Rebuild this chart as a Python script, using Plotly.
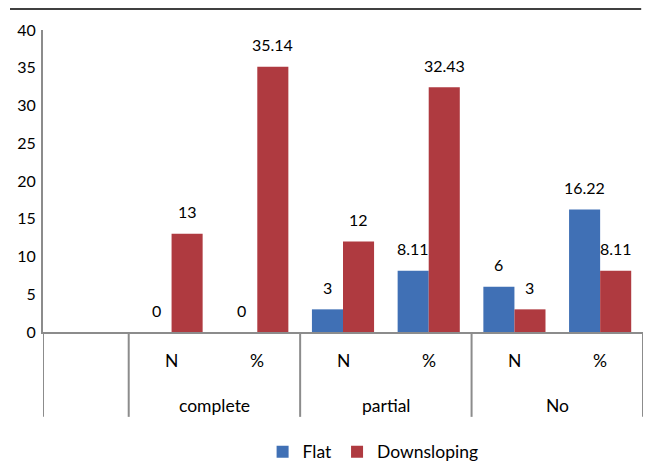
import plotly.graph_objects as go

# Chart data
groups = [" ", "complete", "complete", "partial", "partial", "No", "No"]
measures = [" ", "N", "%", "N", "%", "N", "%"]
flat = [None, 0, 0, 3, 8.11, 6, 16.22]
downsloping = [None, 13, 35.14, 12, 32.43, 3, 8.11]
y_ticks = [0, 5, 10, 15, 20, 25, 30, 35, 40]

FONT = "Lato"
NUM_SIZE = 16
TEXT_SIZE = 17.5
BLUE = "#4070B5"
RED = "#AF3A40"
AXIS_GRAY = "#8C8C8C"
BARGAP = 0.275

fig = go.Figure()
fig.add_trace(go.Bar(x=[groups, measures], y=flat, name="Flat",
                     marker=dict(color=BLUE, line=dict(width=0))))
fig.add_trace(go.Bar(x=[groups, measures], y=downsloping, name="Downsloping",
                     marker=dict(color=RED, line=dict(width=0))))

annotations = []
shapes = []

# value labels centred above each bar
half = (1 - BARGAP) / 4
for series, shift in ((flat, -half), (downsloping, half)):
    for i, v in enumerate(series):
        if v is None:
            continue
        annotations.append(dict(
            x=i + shift, y=v, xref="x", yref="y", text=f"{v:g}",
            showarrow=False, yanchor="middle", yshift=22,
            font=dict(family=FONT, size=NUM_SIZE, color="#000000")))

# two-level category labels under the axis
for i, m in enumerate(measures):
    if m.strip():
        annotations.append(dict(x=i, y=-0.096, xref="x", yref="paper",
                                text=m, showarrow=False, yanchor="middle",
                                font=dict(family=FONT, size=TEXT_SIZE)))

group_names = []
for g in groups:
    if not group_names or group_names[-1][0] != g:
        group_names.append([g, 0])
    group_names[-1][1] += 1

start = 0
bounds = [-0.5]
for name, count in group_names:
    centre = start + (count - 1) / 2
    if name.strip():
        annotations.append(dict(x=centre, y=-0.245, xref="x", yref="paper",
                                text=name, showarrow=False, yanchor="middle",
                                font=dict(family=FONT, size=TEXT_SIZE)))
    start += count
    bounds.append(start - 0.5)

# group dividers
for b in bounds:
    shapes.append(dict(type="line", xref="x", yref="paper", x0=b, x1=b,
                       y0=0, y1=-0.281, line=dict(color=AXIS_GRAY, width=2)))

# rule across the top of the chart
shapes.append(dict(type="line", xref="paper", yref="paper",
                   x0=-0.055, x1=0.997, y0=1.0695, y1=1.0695,
                   line=dict(color="#000000", width=1.5)))

fig.update_layout(
    width=646, height=461,
    margin=dict(l=43, r=3, t=30, b=129, autoexpand=False),
    paper_bgcolor="white", plot_bgcolor="white",
    barmode="group", bargap=BARGAP, bargroupgap=0,
    font=dict(family=FONT, size=NUM_SIZE, color="#000000"),
    annotations=annotations,
    shapes=shapes,
    showlegend=True,
    legend=dict(orientation="h", x=0.366, xanchor="left",
                yref="container", y=0.02, yanchor="middle",
                font=dict(family=FONT, size=TEXT_SIZE),
                itemwidth=30, bgcolor="rgba(0,0,0,0)"),
)
fig.update_yaxes(range=[0, 40], tickvals=y_ticks, showgrid=False,
                 zeroline=False, showline=True, linecolor=AXIS_GRAY,
                 linewidth=2, ticks="", tickfont=dict(family=FONT, size=NUM_SIZE),
                 ticklabelstandoff=2)
fig.update_xaxes(type="multicategory", showline=True, linecolor=AXIS_GRAY,
                 linewidth=2, ticks="", showdividers=False,
                 showticklabels=False, range=[-0.5, 6.5])

fig.write_html("out.html")
